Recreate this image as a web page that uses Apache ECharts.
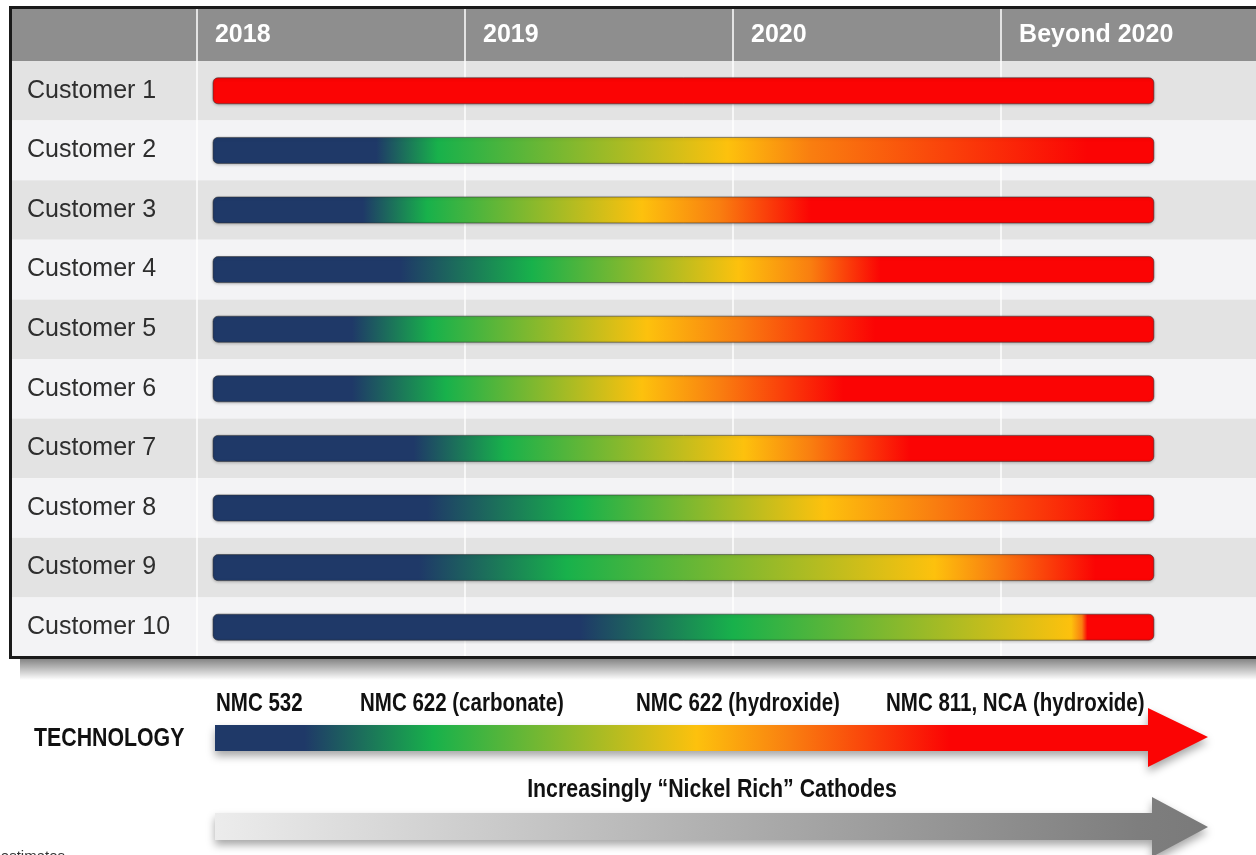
<!DOCTYPE html>
<html><head><meta charset="utf-8">
<script src="https://cdn.jsdelivr.net/npm/echarts@6/dist/echarts.min.js"></script>
<style>html,body{margin:0;padding:0;background:#fff}#c{width:1256px;height:855px}</style>
</head><body><div id="c"></div>
<script>
// ---- data ----
const customers = ['Customer 1','Customer 2','Customer 3','Customer 4','Customer 5','Customer 6','Customer 7','Customer 8','Customer 9','Customer 10'];
const yearTicks = [2018, 2019, 2020, 2021];
const headerLabels = ['2018', '2019', '2020', 'Beyond 2020'];
const barStart = [2018.06, 2018.06, 2018.06, 2018.06, 2018.06, 2018.06, 2018.06, 2018.06, 2018.06, 2018.06];
const barEnd   = [2021.57, 2021.57, 2021.57, 2021.57, 2021.57, 2021.57, 2021.57, 2021.57, 2021.57, 2021.57];
// technology transition points (year units) for each customer
const navyEnd    = [null, 2018.67, 2018.62, 2018.76, 2018.58, 2018.58, 2018.81, 2018.86, 2018.83, 2019.43];
const greenPeak  = [null, 2018.90, 2018.86, 2019.25, 2018.88, 2018.93, 2019.15, 2019.43, 2019.38, 2020.00];
const yellowPeak = [null, 2019.98, 2019.66, 2020.02, 2019.68, 2019.66, 2020.04, 2020.34, 2020.75, 2021.26];
const orangePeak = [null, 2020.29, 2019.95, 2020.29, 2020.02, 2019.95, 2020.29, 2020.75, 2020.98, 2021.30];
const redStart   = [2018.06, 2021.32, 2020.29, 2020.55, 2020.53, 2020.41, 2020.66, 2021.44, 2021.35, 2021.32];
const techTitle = 'TECHNOLOGY';
const techLabels = ['NMC 532', 'NMC 622 (carbonate)', 'NMC 622 (hydroxide)', 'NMC 811, NCA (hydroxide)'];
const trendLabel = 'Increasingly \u201CNickel Rich\u201D Cathodes';
const footNote = 'estimates';

// ---- styles ----
const NAVY = '#1f3968', GREEN = '#18b14b', YELLOW = '#fdc10d', ORANGE = '#f97e10', RED = '#fb0404';
const SANS = "'Liberation Sans', Arial, sans-serif";
const SQ = 0.82; // horizontal squeeze for condensed bold captions

const chart = echarts.init(document.getElementById('c'), null, {renderer: 'canvas'});

function renderItem(params, api) {
  const i = params.dataIndex;
  const s = api.value(1), e = api.value(2);
  const p0 = api.coord([s, i]);
  const p1 = api.coord([e, i]);
  const h = 26;
  const off = v => Math.max(0, Math.min(1, (v - s) / (e - s)));
  const stops = [];
  if (navyEnd[i] != null) {
    stops.push({offset: 0, color: NAVY}, {offset: off(navyEnd[i]), color: NAVY});
    stops.push({offset: off(greenPeak[i]), color: GREEN});
    stops.push({offset: off(yellowPeak[i]), color: YELLOW});
    stops.push({offset: off(orangePeak[i]), color: ORANGE});
    stops.push({offset: off(redStart[i]), color: RED});
  } else {
    stops.push({offset: 0, color: RED});
  }
  stops.push({offset: 1, color: RED});
  return {
    type: 'rect',
    shape: {x: p0[0], y: p0[1] - h / 2, width: p1[0] - p0[0], height: h, r: 5},
    style: {
      fill: new echarts.graphic.LinearGradient(0, 0, 1, 0, stops),
      stroke: 'rgba(50,50,50,0.55)', lineWidth: 1,
      shadowBlur: 3, shadowColor: 'rgba(0,0,0,0.25)', shadowOffsetY: 1
    }
  };
}

const techGrad = new echarts.graphic.LinearGradient(0, 0, 1, 0, [
  {offset: 0, color: NAVY}, {offset: 0.09, color: NAVY}, {offset: 0.22, color: GREEN},
  {offset: 0.485, color: YELLOW}, {offset: 0.58, color: ORANGE}, {offset: 0.74, color: RED}, {offset: 1, color: RED}
]);
const grayGrad = new echarts.graphic.LinearGradient(0, 0, 1, 0, [
  {offset: 0, color: '#ececec'}, {offset: 0.5, color: '#b0b0b0'}, {offset: 0.93, color: '#7e7e7e'}, {offset: 1, color: '#7a7a7a'}
]);

function caption(text, x, y, size, align) {
  return {type: 'text', z: 20, x: x, y: y, scaleX: SQ,
    style: {text: text, font: 'bold ' + size + 'px ' + SANS, fill: '#111', align: align || 'left', verticalAlign: 'middle'}};
}

const option = {
  backgroundColor: '#ffffff',
  animation: false,
  grid: {left: 12, right: 0, top: 61, bottom: 198, containLabel: false},
  xAxis: {
    type: 'value', position: 'top', min: 2017.31, max: 2021.951,
    axisLine: {show: false},
    axisTick: {show: true, customValues: yearTicks, inside: false, length: 52,
      lineStyle: {color: 'rgba(255,255,255,0.75)', width: 2}},
    axisLabel: {customValues: yearTicks, align: 'left', verticalAlign: 'middle', margin: 26,
      padding: [0, 0, 0, 18],
      color: '#ffffff', fontFamily: SANS, fontWeight: 'bold', fontSize: 25,
      formatter: v => headerLabels[yearTicks.indexOf(Math.round(v))] || ''},
    splitLine: {show: true, lineStyle: {color: 'rgba(255,255,255,0.7)', width: 2}}
  },
  yAxis: {
    type: 'category', data: customers, inverse: true,
    axisLine: {show: false}, axisTick: {show: false},
    axisLabel: {inside: true, margin: 15, align: 'left', color: '#2e2e2e', fontFamily: SANS, fontSize: 25},
    splitLine: {show: false},
    splitArea: {show: true, areaStyle: {color: ['#e3e3e3', '#f3f3f5']}}
  },
  series: [{
    type: 'custom',
    renderItem: renderItem,
    encode: {x: [1, 2], y: 0},
    data: customers.map((c, i) => [i, barStart[i], barEnd[i]]),
    z: 5
  }],
  graphic: [
    // header band
    {type: 'rect', z: -1, shape: {x: 12, y: 9, width: 1250, height: 52}, style: {fill: '#8e8e8e'}},
    // shadow under frame
    {type: 'rect', z: -1, shape: {x: 20, y: 658, width: 1240, height: 22},
      style: {fill: new echarts.graphic.LinearGradient(0, 0, 0, 1, [
        {offset: 0, color: 'rgba(0,0,0,0.5)'}, {offset: 1, color: 'rgba(0,0,0,0)'}])}},
    // frame
    {type: 'rect', z: 50, shape: {x: 10.5, y: 7.5, width: 1260, height: 650}, style: {fill: null, stroke: '#1a1a1a', lineWidth: 3}},
    // technology arrow
    {type: 'polygon', z: 10, shape: {points: [[215, 725], [1148, 725], [1148, 708], [1208, 737], [1148, 767], [1148, 751], [215, 751]]},
      style: {fill: techGrad, shadowBlur: 8, shadowOffsetY: 5, shadowColor: 'rgba(0,0,0,0.35)'}},
    // gray arrow
    {type: 'polygon', z: 10, shape: {points: [[215, 813], [1152, 813], [1152, 797], [1208, 827], [1152, 857], [1152, 840], [215, 840]]},
      style: {fill: grayGrad, shadowBlur: 8, shadowOffsetY: 5, shadowColor: 'rgba(0,0,0,0.35)'}},
    // texts
    caption(techTitle, 34, 739, 26),
    caption(techLabels[0], 216, 704, 25),
    caption(techLabels[1], 360, 704, 25),
    caption(techLabels[2], 636, 704, 25),
    caption(techLabels[3], 886, 704, 25),
    caption(trendLabel, 712, 790, 26, 'center'),
    {type: 'text', z: 20, x: 65, y: 849, style: {text: footNote, font: '15px ' + SANS, fill: '#333', align: 'right', verticalAlign: 'top'}}
  ]
};
chart.setOption(option);
</script>
</body></html>
